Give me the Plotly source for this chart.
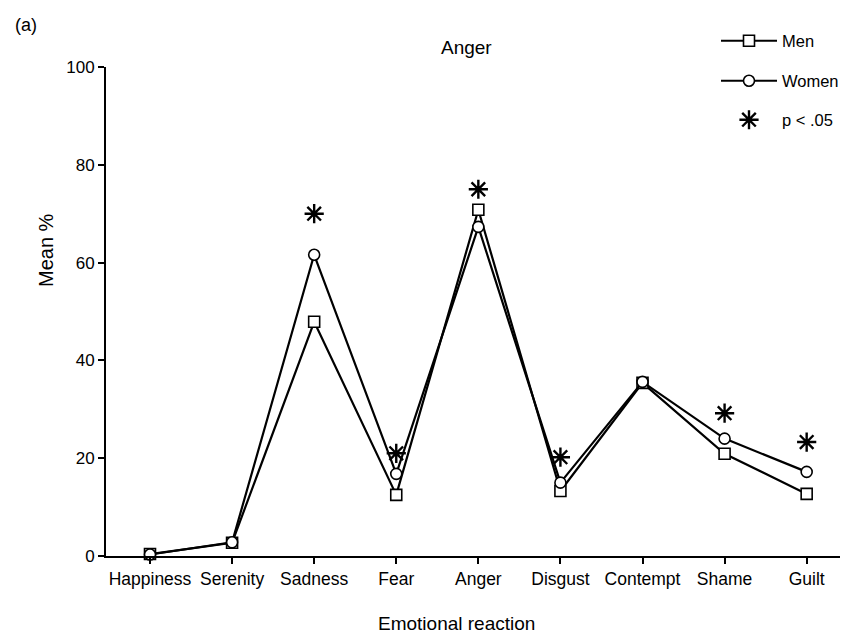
import plotly.graph_objects as go

categories = ["Happiness", "Serenity", "Sadness", "Fear", "Anger", "Disgust", "Contempt", "Shame", "Guilt"]
men = [0.4, 2.7, 47.9, 12.5, 70.8, 13.3, 35.4, 20.9, 12.7]
women = [0.3, 2.8, 61.6, 16.8, 67.3, 15.0, 35.6, 24.0, 17.2]
sig_categories = ["Sadness", "Fear", "Anger", "Disgust", "Shame", "Guilt"]
sig_values = [70.0, 21.0, 75.0, 20.2, 29.2, 23.3]
y_ticks = [0, 20, 40, 60, 80, 100]

xi = list(range(len(categories)))
sig_x = [categories.index(c) for c in sig_categories]

FONT = "Liberation Sans, Arial, sans-serif"
W, H = 848, 633
L, R, T, B = 98, 5, 59, 85
PW, PH = W - L - R, H - T - B


def px(x):
    return (x - L) / PW


def py(y):
    return (H - B - y) / PH


fig = go.Figure()
fig.add_trace(go.Scatter(
    x=xi, y=men, name="Men", mode="lines+markers", legend="legend",
    line=dict(color="black", width=2.2),
    marker=dict(symbol="square", size=11, color="white", line=dict(color="black", width=1.6)),
    cliponaxis=False,
))
fig.add_trace(go.Scatter(
    x=xi, y=women, name="Women", mode="lines+markers", legend="legend2",
    line=dict(color="black", width=2.2),
    marker=dict(symbol="circle", size=11, color="white", line=dict(color="black", width=1.6)),
    cliponaxis=False,
))
fig.add_trace(go.Scatter(
    x=sig_x, y=sig_values, name="p < .05", mode="markers", legend="legend3",
    marker=dict(symbol="asterisk-open", size=16, color="black", line=dict(color="black", width=2.4)),
    cliponaxis=False,
))

leg_common = dict(xref="container", yref="container", xanchor="left", yanchor="middle",
                  bgcolor="rgba(0,0,0,0)", borderwidth=0,
                  font=dict(family=FONT, size=16.5, color="black"),
                  itemwidth=56)
LEG_X = 708 / W
fig.update_layout(
    width=W, height=H,
    margin=dict(l=L, r=R, t=T, b=B, autoexpand=False),
    paper_bgcolor="white", plot_bgcolor="white",
    font=dict(family=FONT, size=17, color="black"),
    showlegend=True,
    legend=dict(x=LEG_X, y=1 - 33 / H, **leg_common),
    legend2=dict(x=LEG_X, y=1 - 73 / H, **leg_common),
    legend3=dict(x=LEG_X, y=1 - 112 / H, **leg_common),
    annotations=[
        dict(text="(a)", xref="paper", yref="paper", x=px(5), y=py(17),
             xanchor="left", yanchor="middle", showarrow=False,
             font=dict(family=FONT, size=18, color="black")),
        dict(text="Anger", xref="paper", yref="paper", x=px(458), y=py(39),
             xanchor="center", yanchor="middle", showarrow=False,
             font=dict(family=FONT, size=19, color="black")),
        dict(text="Emotional reaction", xref="paper", yref="paper", x=px(448), y=py(615),
             xanchor="center", yanchor="middle", showarrow=False,
             font=dict(family=FONT, size=19, color="black")),
        dict(text="Mean %", xref="paper", yref="paper", x=px(38), y=py(242), textangle=-90,
             xanchor="center", yanchor="middle", showarrow=False,
             font=dict(family=FONT, size=20, color="black")),
    ],
)
fig.update_xaxes(
    range=[-0.536, 8.54], tickmode="array", tickvals=xi, ticktext=categories,
    showgrid=False, zeroline=False, showline=True, linecolor="black", linewidth=2,
    ticks="outside", ticklen=6, tickwidth=2, tickcolor="black",
    tickfont=dict(family=FONT, size=17.5, color="black"),
)
fig.update_yaxes(
    range=[0, 100], tickmode="array", tickvals=y_ticks,
    showgrid=False, zeroline=False, showline=True, linecolor="black", linewidth=2,
    ticks="outside", ticklen=6, tickwidth=2, tickcolor="black",
    tickfont=dict(family=FONT, size=17, color="black"),
)

fig.write_html("out.html")
